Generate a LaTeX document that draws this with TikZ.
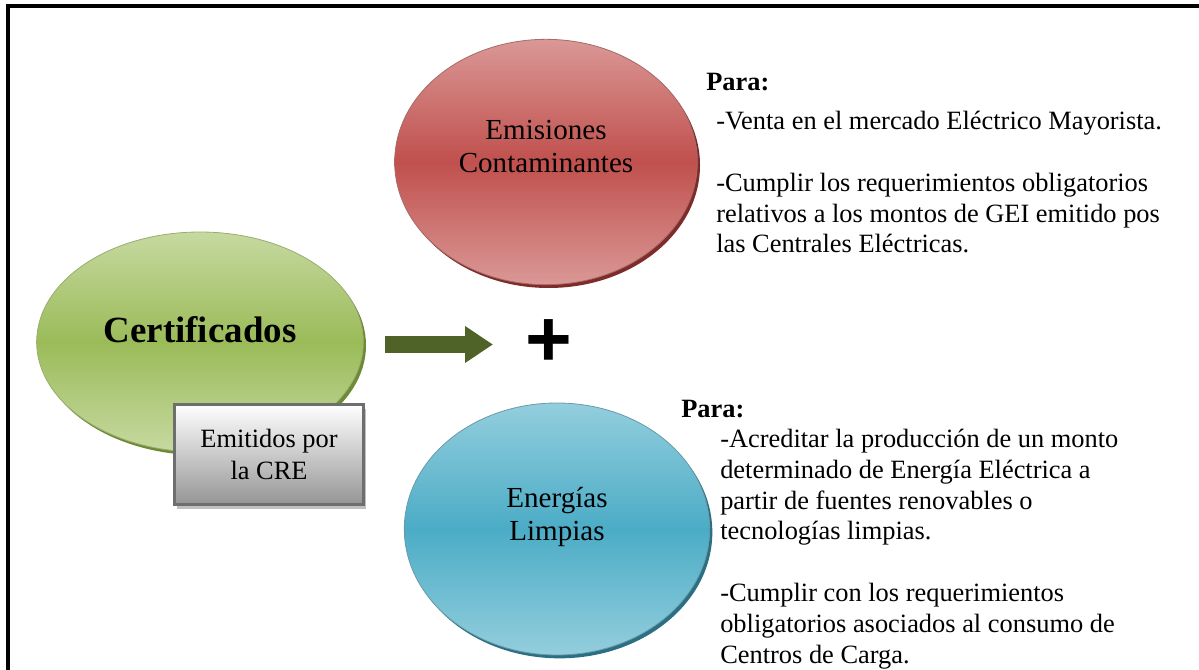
\documentclass[tikz,border=0pt]{standalone}
\usepackage{fontspec}
\setmainfont{Liberation Serif}
\newfontfamily\plusfont{Liberation Sans}
\usepackage{xcolor}
\definecolor{Leaf}{HTML}{9BBB59}
\definecolor{LeafLight}{HTML}{C6D9A0}
\definecolor{LeafDark}{HTML}{6E8A35}
\definecolor{Brick}{HTML}{C0504D}
\definecolor{BrickLight}{HTML}{DA9896}
\definecolor{BrickDark}{HTML}{7F2B29}
\definecolor{Lagoon}{HTML}{4BACC6}
\definecolor{LagoonLight}{HTML}{93CEDD}
\definecolor{LagoonDark}{HTML}{2A6F82}
\definecolor{Olive}{HTML}{4F6228}
\definecolor{BoxLine}{HTML}{6E6E6E}
\definecolor{BoxGray}{HTML}{959595}
\definecolor{BoxShade}{HTML}{C0C0C0}
\usetikzlibrary{arrows.meta,shapes.geometric,shadows}

\begin{document}
\begin{tikzpicture}[
  x=0.75pt,y=-0.75pt,
  ball/.style={ellipse,inner sep=0pt,line width=0.6pt},
  greenball/.style={ball,draw=LeafDark!70,top color=LeafLight,bottom color=LeafLight,middle color=Leaf,minimum width=245pt,minimum height=165pt,drop shadow={shadow xshift=2pt,shadow yshift=-2.5pt,opacity=1,fill=LeafDark}},
  redball/.style={ball,draw=BrickDark!70,top color=BrickLight,bottom color=BrickLight,middle color=Brick,minimum width=227pt,minimum height=184pt,drop shadow={shadow xshift=2pt,shadow yshift=-2.5pt,opacity=1,fill=BrickDark}},
  blueball/.style={ball,draw=LagoonDark!70,top color=LagoonLight,bottom color=LagoonLight,middle color=Lagoon,minimum width=229pt,minimum height=189pt,drop shadow={shadow xshift=2pt,shadow yshift=-2.5pt,opacity=1,fill=LagoonDark}},
  balltxt/.style={inner sep=0pt,align=center,font=\fontsize{21.8pt}{24.75pt}\selectfont},
  crebox/.style={rectangle,draw=BoxLine,line width=2.25pt,top color=white,bottom color=BoxGray,minimum width=142pt,minimum height=75pt,align=center,inner sep=0pt,font=\fontsize{19.8pt}{24pt}\selectfont,drop shadow={shadow xshift=2pt,shadow yshift=-3pt,opacity=1,fill=BoxShade}},
  para/.style={inner sep=0pt,align=left,font=\fontsize{19.8pt}{23.1pt}\selectfont},
  bigarrow/.style={line width=12.75pt,color=Olive,-{Triangle[length=21pt,width=26.25pt]}},
  frame/.style={line width=3pt,black}
]
\useasboundingbox (0,0) rectangle (1199,670);
\draw[frame] (8,670) -- (8,6) -- (1199,6);

% certificados
\node[greenball] (cert) at (200,342) {};
\node[inner sep=0pt,font=\fontsize{27.7pt}{30pt}\selectfont\bfseries] (certTxt) at ([yshift=9pt]cert.center) {Certificados};
\node[crebox] (cre) at (269,454.5) {Emitidos por\\la CRE};

% tipos
\node[redball] (emis) at (546,162) {};
\node[balltxt] (emisTxt) at ([yshift=11.5pt]emis.center) {Emisiones\\Contaminantes};
\node[blueball] (limp) at (557,529) {};
\node[balltxt] (limpTxt) at ([yshift=9pt]limp.center) {Energías\\Limpias};

\coordinate (tail) at (385,344.5);
\coordinate (tip) at (493,344.5);
\draw[bigarrow] (tail) -- (tip);
\node[inner sep=0pt,font=\fontsize{60pt}{60pt}\plusfont\bfseries] (plus) at (549,343) {+};

% usos (base = last line)
\node[para,anchor=base west] (paraA) at (706,91) {\textbf{Para:}};
\node[para,anchor=base west] (usosA) at (716,253) {-Venta en el mercado Eléctrico Mayorista.\\[23.1pt]-Cumplir los requerimientos obligatorios\\relativos a los montos de GEI emitido pos\\las Centrales Eléctricas.};
\node[para,anchor=base west] (paraB) at (681,417) {\textbf{Para:}};
\node[para,anchor=base west] (usosB) at (720,663) {-Acreditar la producción de un monto\\determinado de Energía Eléctrica a\\partir de fuentes renovables o\\tecnologías limpias.\\[23.1pt]-Cumplir con los requerimientos\\obligatorios asociados al consumo de\\Centros de Carga.};
\end{tikzpicture}
\end{document}
